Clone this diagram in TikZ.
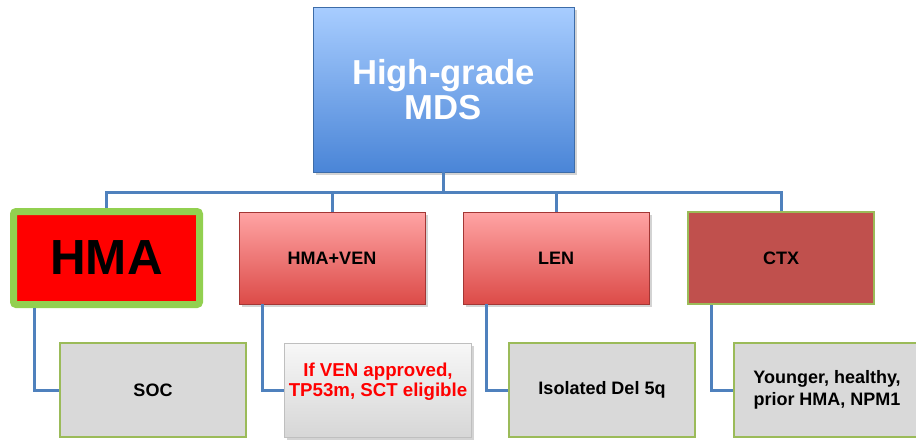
\documentclass[tikz,border=0pt]{standalone}
\usepackage{fontspec}
\setmainfont{Liberation Sans}
\usepackage{xcolor}
\usetikzlibrary{positioning,calc,shadows}

\definecolor{linkblue}{HTML}{4F81BD}
\definecolor{topbluetop}{HTML}{A8CDFF}
\definecolor{topbluebot}{HTML}{4A85D7}
\definecolor{topblueline}{HTML}{3D6CA8}
\definecolor{pinktop}{HTML}{FFA4A4}
\definecolor{pinkbot}{HTML}{DC4B48}
\definecolor{pinkline}{HTML}{A33634}
\definecolor{ctxred}{HTML}{C0504D}
\definecolor{leafgreen}{HTML}{9BBB59}
\definecolor{hmagreen}{HTML}{92D050}
\definecolor{leafgray}{HTML}{D9D9D9}

\tikzset{
  link/.style={draw=linkblue, line width=2.25pt},
  topbox/.style={draw=topblueline, line width=0.6pt, top color=topbluetop, bottom color=topbluebot,
    minimum width=195.75pt, minimum height=123.75pt, align=center, text=white,
    font=\bfseries\fontsize{26}{26}\selectfont,
    drop shadow={opacity=0.35, shadow xshift=2pt, shadow yshift=-2pt}},
  drugbox/.style={draw=pinkline, line width=0.5pt, top color=pinktop, bottom color=pinkbot,
    minimum width=139.5pt, minimum height=69pt, align=center,
    font=\bfseries\fontsize{13.5}{15.5}\selectfont,
    drop shadow={opacity=0.35, shadow xshift=2pt, shadow yshift=-2pt}},
  hmabox/.style={draw=hmagreen, line width=5.25pt, rounded corners=2pt, fill=red,
    minimum width=139.5pt, minimum height=69.75pt,
    font=\bfseries\fontsize{37}{40}\selectfont},
  ctxbox/.style={draw=leafgreen, line width=1pt, fill=ctxred,
    minimum width=139.5pt, minimum height=69pt,
    font=\bfseries\fontsize{13.5}{15.5}\selectfont},
  leafbox/.style={draw=leafgreen, line width=1pt, fill=leafgray,
    minimum width=139.5pt, minimum height=70.5pt, align=center,
    font=\bfseries\fontsize{13.5}{17}\selectfont},
  notebox/.style={draw=black!25, line width=0.5pt, top color=black!3, bottom color=black!16,
    minimum width=139.5pt, minimum height=70.5pt, align=center, text=red,
    font=\bfseries\fontsize{14}{15}\selectfont,
    drop shadow={opacity=0.35, shadow xshift=2pt, shadow yshift=-2pt}},
}

\begin{document}
\begin{tikzpicture}[x=0.75pt, y=-0.75pt]
    \useasboundingbox (0,0) rectangle (916,440);

    % top of the tree
    \node[topbox] (mds) at (443.5,89.5) {High-grade\\MDS};

    % treatments
    \node[hmabox] (hma) at (106.5,258) {HMA};
    \node[drugbox] (hmaven) at (332,258) {HMA+VEN};
    \node[drugbox] (len) at (556,258) {LEN};
    \node[ctxbox] (ctx) at (781,258) {CTX};

    % who gets what
    \node[leafbox] (soc) at (153,390) {SOC};
    \node[notebox] (ifven) at (378,390) {If VEN approved,\\TP53m, SCT eligible\\\mbox{}};
    \node[leafbox] (del5q) at (602,390) {Isolated Del 5q};
    \node[leafbox] (young) at (827,390) {Younger, healthy,\\prior HMA, NPM1};

    % tree lines
    \coordinate (bar) at (443.5,192);
    \draw[link] (mds.south) -- (bar);
    \draw[link] (hma.north) |- (bar) -| (ctx.north);
    \draw[link] (hmaven.north) -- (hmaven.north |- bar);
    \draw[link] (len.north) -- (len.north |- bar);

    % side lines
    \draw[link] ([xshift=18.5]hma.south west) |- (soc.west);
    \draw[link] ([xshift=18]hmaven.south west) |- (ifven.west);
    \draw[link] ([xshift=18]len.south west) |- (del5q.west);
    \draw[link] ([xshift=18]ctx.south west) |- (young.west);
\end{tikzpicture}
\end{document}
